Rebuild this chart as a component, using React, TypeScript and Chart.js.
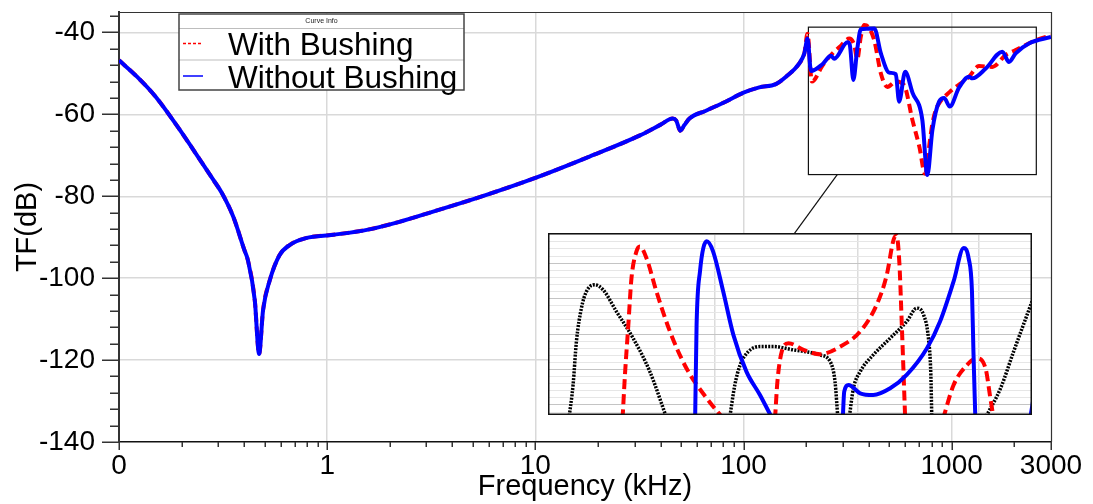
import React, { useEffect, useRef } from 'react';
import { Chart, registerables } from 'chart.js';

Chart.register(...registerables);

const FONT = '"Liberation Sans", Arial, Helvetica, sans-serif';

// ---------- main chart data (frequency in kHz, transfer function in dB) ----------
// identical part of both curves (below ~200 kHz)
const freqCommon = [0.1, 0.122, 0.15, 0.196, 0.245, 0.284, 0.312, 0.354, 0.4, 0.416, 0.449, 0.471, 0.492, 0.53, 0.59, 0.66, 0.79, 1.07, 1.55, 2.2, 3.2, 5.4, 10, 18.2, 31.6, 40, 45.7, 47.5, 49.7, 52, 55, 66, 82, 100, 119, 143, 160, 185, 196];
const dbCommon = [-46.8, -50.8, -55.7, -63.8, -71.1, -76, -79.2, -85, -93.1, -95.6, -105.4, -118.5, -107.8, -100.5, -94.4, -91.9, -90.2, -89.4, -88.2, -86.3, -83.8, -80.2, -75.5, -70.3, -65.2, -62.5, -61, -61.5, -64, -62.6, -61, -59.1, -56.9, -54.7, -53.4, -52.6, -50.8, -47.6, -45.1];

// "Without Bushing" above 200 kHz
const freqWithout = [203, 211, 240, 263, 273, 316, 324, 337, 352, 366, 425, 457, 501, 539, 559, 598, 648, 723, 764, 808, 870, 920, 979, 1084, 1211, 1257, 1458, 1750, 1885, 2030, 2350, 3000];
const dbWithout = [-41.5, -49.4, -47.7, -45.7, -46.4, -42.4, -43, -51.6, -44, -39.2, -39, -45.1, -49.8, -50.2, -56.9, -49.6, -54.7, -61.4, -74.8, -63.8, -56.9, -56, -58.1, -53.5, -50.8, -51.2, -48.8, -44.7, -47.2, -45.1, -42.7, -41.1];

// "With Bushing" above 200 kHz
const freqWith = [203, 213, 240, 263, 290, 322, 340, 352, 366, 380, 400, 425, 457, 491, 539, 591, 648, 700, 745, 788, 808, 838, 870, 979, 1211, 1352, 1568, 1818, 2030, 2530, 3000];
const dbWith = [-40.3, -52, -48, -45.5, -43.5, -41.5, -43, -46.5, -41, -38.2, -38.8, -42, -50, -53.3, -52, -52.9, -61.4, -68, -74.5, -66, -62.2, -59, -57.3, -54.5, -50.8, -48.2, -48.4, -45.5, -44.3, -41.9, -40.7];

// axis ticks
const xTickValues = [0.1, 1, 10, 100, 1000, 3000];
const xTickLabels = ['0', '1', '10', '100', '1000', '3000'];
const xMinorTicks = [0.2, 0.3, 0.4, 0.5, 0.6, 0.7, 0.8, 0.9, 2, 3, 4, 5, 6, 7, 8, 9, 20, 30, 40, 50, 60, 70, 80, 90, 200, 300, 400, 500, 600, 700, 800, 900, 2000];
const yTickValues = [-140, -120, -100, -80, -60, -40];
const yMinorTicks = [-136, -132, -128, -124, -116, -112, -108, -104, -96, -92, -88, -84, -76, -72, -68, -64, -56, -52, -48, -44, -36];

// zoom window in the main plot (kHz, dB) and its connector
const zoomBoxFreq = [205, 2550];
const zoomBoxDB = [-38.7, -74.7];
const connectorFreq = [282, 175];
const connectorDB = [-74.7, -89.2];

// ---------- inset (magnified view, arbitrary units) ----------
const insetBlack1: number[][] = [[4.3, -2], [5.18, 2.82], [5.87, 8.95], [6.9, 13.65], [7.94, 16.0], [9.66, 16.95], [11.39, 16.24], [14.14, 13.18], [17.59, 9.42], [21.04, 4.71], [24.6, -2]];
const insetBlack2: number[][] = [[37.5, -2], [38.6, 2.82], [39.7, 5.65], [41.4, 7.53], [43.8, 8.24], [46.6, 8.24], [50.7, 7.77], [56.2, 7.06], [58.3, 6.12], [59.3, 3.3], [59.9, -2]];
const insetBlack3: number[][] = [[62.2, -2], [63.1, 2.35], [64.5, 4.71], [67.2, 7.06], [70.7, 9.42], [74.1, 11.77], [76.2, 13.65], [77.6, 12.71], [78.6, 9.42], [79.1, 4.24], [79.3, -2]];
const insetBlack4: number[][] = [[90.2, -2], [93.5, 2.35], [96.2, 7.53], [100, 14.6]];
const insetRed1: number[][] = [[15.4, -2], [15.9, 4.24], [16.6, 11.3], [17.25, 17.9], [18.28, 21.66], [18.97, 22.36], [20.35, 20.7], [22.4, 16.0], [25.2, 10.36], [28.6, 5.18], [32.8, 0.94], [36.3, -2]];
const insetRed2: number[][] = [[46.9, -2], [47.4, 3.3], [48.3, 7.53], [49.7, 8.71], [52.8, 7.77], [56.2, 7.16], [60.4, 8.24], [64.5, 10.36], [67.9, 14.12], [70.0, 18.36], [71.4, 23.3], [72.0, 23.9], [72.6, 20], [73.1, 11.3], [73.8, -2]];
const insetRed3: number[][] = [[81.6, -2], [83.8, 2.82], [86.6, 5.65], [88.6, 6.59], [90.4, 5.18], [91.4, 0.94], [92.1, -2]];
const insetBlue1: number[][] = [[30.4, -2], [30.7, 11.3], [31.4, 18.83], [32.8, 23.07], [34.1, 21.66], [36.2, 16.0], [38.3, 9.89], [41.0, 4.71], [43.8, 1.41], [46.4, -2]];
const insetBlue2: number[][] = [[60.9, -2], [61.2, 1.88], [62.1, 2.82], [64.5, 1.65], [67.2, 1.41], [70.7, 2.35], [74.1, 4.24], [78.3, 8.0], [81.0, 11.77], [83.8, 17.42], [85.9, 22.13], [86.9, 20.7], [87.6, 16.0], [87.9, 7.53], [88.3, -2]];
const insetBlue3: number[][] = [[99.6, -2], [100.2, 0.5]];
const insetXGrid = [34.4, 64.1, 88.9];
const insetYGrid = [-1, 0, 1, 2, 3, 4, 5, 6, 7, 8, 9, 10, 11, 12, 13, 14, 15, 16, 17, 18, 19, 20, 21, 22, 23, 24];

const toPoints = (xs: number[], ys: number[]) => xs.map((x, i) => ({ x, y: ys[i] }));
const pairPoints = (p: number[][]) => p.map(([x, y]) => ({ x, y }));

const mainPlugin = {
  id: 'mainDecor',
  beforeDatasetsDraw(chart: any) {
    const { ctx, chartArea: ca, scales } = chart;
    const x = scales.x, y = scales.y;
    ctx.save();
    // top and right frame
    ctx.strokeStyle = '#333';
    ctx.lineWidth = 1.2;
    ctx.beginPath();
    ctx.moveTo(ca.left, ca.top + 0.5);
    ctx.lineTo(ca.right + 0.5, ca.top + 0.5);
    ctx.lineTo(ca.right + 0.5, ca.bottom);
    ctx.stroke();
    // zoom window
    const x0 = x.getPixelForValue(zoomBoxFreq[0]);
    const x1 = x.getPixelForValue(zoomBoxFreq[1]);
    const y0 = y.getPixelForValue(zoomBoxDB[0]);
    const y1 = y.getPixelForValue(zoomBoxDB[1]);
    ctx.strokeStyle = '#111';
    ctx.lineWidth = 1.2;
    ctx.strokeRect(x0, y0, x1 - x0, y1 - y0);
    ctx.beginPath();
    ctx.moveTo(x.getPixelForValue(connectorFreq[0]), y.getPixelForValue(connectorDB[0]));
    ctx.lineTo(x.getPixelForValue(connectorFreq[1]), y.getPixelForValue(connectorDB[1]));
    ctx.stroke();
    ctx.restore();
  },
  afterDraw(chart: any) {
    const { ctx, chartArea: ca, scales } = chart;
    const x = scales.x, y = scales.y;
    ctx.save();
    ctx.strokeStyle = '#333';
    ctx.lineWidth = 1.5;
    ctx.beginPath();
    yTickValues.forEach((v) => {
      const p = Math.round(y.getPixelForValue(v)) + 0.25;
      ctx.moveTo(ca.left - 17, p);
      ctx.lineTo(ca.left, p);
    });
    yMinorTicks.forEach((v) => {
      const p = Math.round(y.getPixelForValue(v)) + 0.25;
      ctx.moveTo(ca.left - 9, p);
      ctx.lineTo(ca.left, p);
    });
    xTickValues.forEach((v) => {
      const p = Math.round(x.getPixelForValue(v)) + 0.25;
      ctx.moveTo(p, ca.bottom);
      ctx.lineTo(p, ca.bottom + 8);
    });
    xMinorTicks.forEach((v) => {
      const p = Math.round(x.getPixelForValue(v)) + 0.25;
      ctx.moveTo(p, ca.bottom);
      ctx.lineTo(p, ca.bottom + 5);
    });
    ctx.stroke();

    // legend box "Curve Info"
    const L = ca.left + 60, T = ca.top + 2, R = ca.left + 345, B = ca.top + 78;
    ctx.fillStyle = '#fff';
    ctx.fillRect(L, T, R - L, B - T);
    ctx.strokeStyle = '#bdbdbd';
    ctx.lineWidth = 1;
    ctx.beginPath();
    ctx.moveTo(L, ca.top + 16.5);
    ctx.lineTo(R, ca.top + 16.5);
    ctx.moveTo(L, ca.top + 48);
    ctx.lineTo(R, ca.top + 48);
    ctx.stroke();
    ctx.strokeStyle = '#444';
    ctx.lineWidth = 1.5;
    ctx.strokeRect(L, T, R - L, B - T);
    ctx.fillStyle = '#222';
    ctx.font = `7px ${FONT}`;
    ctx.textAlign = 'center';
    ctx.textBaseline = 'middle';
    ctx.fillText('Curve Info', (L + R) / 2, ca.top + 9.5);
    ctx.lineWidth = 1.5;
    ctx.strokeStyle = '#ff0000';
    ctx.setLineDash([3, 2]);
    ctx.beginPath();
    ctx.moveTo(L + 4, ca.top + 31.5);
    ctx.lineTo(L + 23, ca.top + 31.5);
    ctx.stroke();
    ctx.setLineDash([]);
    ctx.strokeStyle = '#0000ff';
    ctx.beginPath();
    ctx.moveTo(L + 4, ca.top + 64);
    ctx.lineTo(L + 24, ca.top + 64);
    ctx.stroke();
    ctx.fillStyle = '#000';
    ctx.font = `31.5px ${FONT}`;
    ctx.textAlign = 'left';
    ctx.textBaseline = 'alphabetic';
    ctx.fillText('With Bushing', L + 49, ca.top + 43);
    ctx.fillText('Without Bushing', L + 49, ca.top + 75.5);
    ctx.restore();
  },
};

const insetPlugin = {
  id: 'insetFrame',
  afterDraw(chart: any) {
    const { ctx, width, height } = chart;
    ctx.save();
    ctx.strokeStyle = '#111';
    ctx.lineWidth = 1.5;
    ctx.strokeRect(0.75, 0.75, width - 1.5, height - 1.5);
    ctx.restore();
  },
};

export default function App() {
  const mainRef = useRef<HTMLCanvasElement>(null);
  const insetRef = useRef<HTMLCanvasElement>(null);

  useEffect(() => {
    const redPoints = toPoints(freqCommon.concat(freqWith), dbCommon.concat(dbWith));
    const bluePoints = toPoints(freqCommon.concat(freqWithout), dbCommon.concat(dbWithout));

    const main = new Chart(mainRef.current as HTMLCanvasElement, {
      type: 'line',
      data: {
        datasets: [
          {
            label: 'With Bushing',
            data: redPoints,
            borderColor: '#ff0000',
            borderWidth: 4,
            borderDash: [9, 5],
            pointRadius: 0,
            fill: false,
            cubicInterpolationMode: 'monotone',
            order: 1,
          },
          {
            label: 'Without Bushing',
            data: bluePoints,
            borderColor: '#0000ff',
            borderWidth: 4,
            pointRadius: 0,
            fill: false,
            cubicInterpolationMode: 'monotone',
            order: 0,
          },
        ],
      } as any,
      options: {
        animation: false,
        responsive: false,
        devicePixelRatio: 1,
        layout: { padding: { left: 0, top: 12, right: 42, bottom: 0 } },
        plugins: { legend: { display: false }, tooltip: { enabled: false } },
        scales: {
          x: {
            type: 'logarithmic',
            min: 0.1,
            max: 3000,
            afterBuildTicks: (s: any) => {
              s.ticks = xTickValues.map((v) => ({ value: v }));
            },
            afterFit: (s: any) => {
              s.height = 62;
              s.paddingLeft = 0;
              s.paddingRight = 0;
            },
            ticks: {
              callback: (_v: any, i: number) => xTickLabels[i],
              autoSkip: false,
              maxRotation: 0,
              padding: 7,
              color: '#000',
              font: { family: FONT, size: 28 },
            },
            grid: {
              drawTicks: false,
              lineWidth: 1.5,
              color: (c: any) => (c.tick && (c.tick.value === 0.1 || c.tick.value === 3000) ? 'rgba(0,0,0,0)' : '#d9d9d9'),
            },
            border: { display: true, color: '#111', width: 1.5 },
            title: {
              display: true,
              text: 'Frequency (kHz)',
              color: '#000',
              font: { family: FONT, size: 29 },
              padding: { top: 0, bottom: 0 },
            },
          },
          y: {
            type: 'linear',
            min: -140,
            max: -35,
            afterBuildTicks: (s: any) => {
              s.ticks = yTickValues.map((v) => ({ value: v }));
            },
            afterFit: (s: any) => {
              s.width = 119;
              s.paddingTop = 0;
              s.paddingBottom = 0;
            },
            ticks: {
              padding: 24,
              color: '#000',
              font: { family: FONT, size: 28 },
            },
            grid: {
              drawTicks: false,
              lineWidth: 1.5,
              color: (c: any) => (c.tick && c.tick.value === -140 ? 'rgba(0,0,0,0)' : '#d9d9d9'),
            },
            border: { display: true, color: '#333', width: 2 },
            title: {
              display: true,
              text: 'TF(dB)',
              color: '#000',
              font: { family: FONT, size: 29 },
              padding: { top: 11, bottom: 0 },
            },
          },
        },
      } as any,
      plugins: [mainPlugin],
    });

    const seg = (p: number[][], color: string, dash: number[], width: number) => ({
      data: pairPoints(p),
      borderColor: color,
      borderWidth: width,
      borderDash: dash,
      pointRadius: 0,
      fill: false,
      cubicInterpolationMode: 'monotone',
    });

    const inset = new Chart(insetRef.current as HTMLCanvasElement, {
      type: 'line',
      data: {
        datasets: [
          seg(insetBlue1, '#0000ff', [], 4),
          seg(insetBlue2, '#0000ff', [], 4),
          seg(insetBlue3, '#0000ff', [], 4),
          seg(insetRed1, '#ff0000', [10, 5], 4),
          seg(insetRed2, '#ff0000', [10, 5], 4),
          seg(insetRed3, '#ff0000', [10, 5], 4),
          seg(insetBlack1, '#000000', [2, 1.3], 3.5),
          seg(insetBlack2, '#000000', [2, 1.3], 3.5),
          seg(insetBlack3, '#000000', [2, 1.3], 3.5),
          seg(insetBlack4, '#000000', [2, 1.3], 3.5),
        ],
      } as any,
      options: {
        animation: false,
        responsive: false,
        devicePixelRatio: 1,
        layout: { padding: 0 },
        plugins: { legend: { display: false }, tooltip: { enabled: false } },
        scales: {
          x: {
            type: 'linear',
            min: 0,
            max: 100,
            afterBuildTicks: (s: any) => {
              s.ticks = insetXGrid.map((v) => ({ value: v }));
            },
            afterFit: (s: any) => {
              s.height = 0;
              s.paddingLeft = 0;
              s.paddingRight = 0;
            },
            ticks: { display: false },
            grid: { drawTicks: false, color: '#dcdcdc', lineWidth: 1.5 },
            border: { display: false },
          },
          y: {
            type: 'linear',
            min: -1.41,
            max: 24.25,
            afterBuildTicks: (s: any) => {
              s.ticks = insetYGrid.map((v) => ({ value: v }));
            },
            afterFit: (s: any) => {
              s.width = 0;
              s.paddingTop = 0;
              s.paddingBottom = 0;
            },
            ticks: { display: false },
            grid: {
              drawTicks: false,
              lineWidth: 1,
              color: (c: any) => (c.tick && c.tick.value % 5 === 0 ? '#c4c4c4' : '#e6e6e6'),
            },
            border: { display: false },
          },
        },
      } as any,
      plugins: [insetPlugin],
    });

    return () => {
      main.destroy();
      inset.destroy();
    };
  }, []);

  return (
    <div style={{ position: 'absolute', left: 0, top: 0, width: 1093, height: 504, background: '#fff', overflow: 'hidden' }}>
      <canvas ref={mainRef} width={1093} height={504} style={{ position: 'absolute', left: 0, top: 0 }} />
      <div style={{ position: 'absolute', left: 548, top: 233, width: 484, height: 182, background: '#fff' }}>
        <canvas ref={insetRef} width={484} height={182} style={{ display: 'block' }} />
      </div>
    </div>
  );
}
